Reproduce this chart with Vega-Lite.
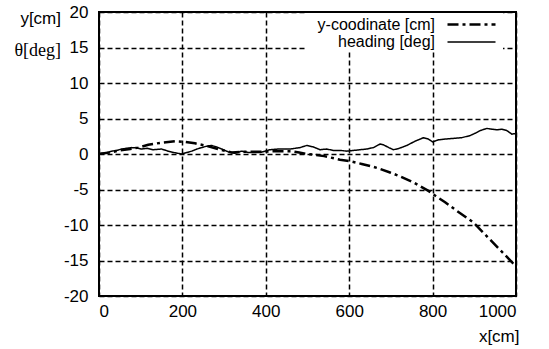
{
  "$schema": "https://vega.github.io/schema/vega-lite/v6.json",
  "width": 417,
  "height": 284,
  "autosize": {"type": "none"},
  "padding": {"left": 99, "top": 12, "right": 33, "bottom": 53},
  "background": "white",
  "title": {
    "text": "y[cm]",
    "subtitle": "θ[deg]",
    "anchor": "start",
    "frame": "group",
    "align": "right",
    "dx": -38,
    "dy": 62,
    "font": "Liberation Sans",
    "fontSize": 17,
    "fontWeight": "normal",
    "color": "black",
    "subtitleFont": "Liberation Serif",
    "subtitleFontSize": 18,
    "subtitleColor": "black",
    "subtitlePadding": 14
  },
  "config": {
    "view": {"stroke": "black", "strokeWidth": 2},
    "font": "Liberation Sans",
    "axis": {
      "labelFont": "Liberation Sans",
      "labelFontSize": 17,
      "labelColor": "black",
      "labelExpr": "datum.value + ''",
      "domain": false,
      "ticks": false,
      "grid": true,
      "gridColor": "black",
      "gridDash": [5, 3],
      "gridWidth": 1.5,
      "gridOpacity": 1
    },
    "legend": {
      "orient": "none",
      "legendX": 206,
      "legendY": 1,
      "padding": 2,
      "fillColor": "white",
      "symbolType": "M-3,0H3",
      "symbolSize": 256,
      "symbolStrokeWidth": 2,
      "symbolStrokeColor": "black",
      "symbolOffset": 155,
      "labelFont": "Liberation Sans",
      "labelFontSize": 16,
      "labelColor": "black",
      "labelAlign": "right",
      "labelOffset": -46,
      "rowPadding": -3,
      "title": null
    }
  },
  "data": {
    "values": [
      {"x": 0, "v": 0.0, "s": "y-coodinate [cm]"},
      {"x": 25, "v": 0.2, "s": "y-coodinate [cm]"},
      {"x": 50, "v": 0.5, "s": "y-coodinate [cm]"},
      {"x": 75, "v": 0.7, "s": "y-coodinate [cm]"},
      {"x": 94, "v": 0.9, "s": "y-coodinate [cm]"},
      {"x": 118, "v": 1.3, "s": "y-coodinate [cm]"},
      {"x": 150, "v": 1.6, "s": "y-coodinate [cm]"},
      {"x": 182, "v": 1.8, "s": "y-coodinate [cm]"},
      {"x": 206, "v": 1.7, "s": "y-coodinate [cm]"},
      {"x": 230, "v": 1.5, "s": "y-coodinate [cm]"},
      {"x": 254, "v": 1.2, "s": "y-coodinate [cm]"},
      {"x": 285, "v": 0.7, "s": "y-coodinate [cm]"},
      {"x": 318, "v": 0.2, "s": "y-coodinate [cm]"},
      {"x": 340, "v": 0.3, "s": "y-coodinate [cm]"},
      {"x": 380, "v": 0.3, "s": "y-coodinate [cm]"},
      {"x": 420, "v": 0.4, "s": "y-coodinate [cm]"},
      {"x": 460, "v": 0.4, "s": "y-coodinate [cm]"},
      {"x": 480, "v": 0.2, "s": "y-coodinate [cm]"},
      {"x": 500, "v": 0.0, "s": "y-coodinate [cm]"},
      {"x": 540, "v": -0.3, "s": "y-coodinate [cm]"},
      {"x": 578, "v": -0.8, "s": "y-coodinate [cm]"},
      {"x": 602, "v": -1.0, "s": "y-coodinate [cm]"},
      {"x": 630, "v": -1.4, "s": "y-coodinate [cm]"},
      {"x": 658, "v": -1.8, "s": "y-coodinate [cm]"},
      {"x": 674, "v": -2.1, "s": "y-coodinate [cm]"},
      {"x": 698, "v": -2.6, "s": "y-coodinate [cm]"},
      {"x": 720, "v": -3.1, "s": "y-coodinate [cm]"},
      {"x": 754, "v": -4.0, "s": "y-coodinate [cm]"},
      {"x": 790, "v": -5.2, "s": "y-coodinate [cm]"},
      {"x": 802, "v": -5.7, "s": "y-coodinate [cm]"},
      {"x": 830, "v": -6.8, "s": "y-coodinate [cm]"},
      {"x": 858, "v": -8.0, "s": "y-coodinate [cm]"},
      {"x": 897, "v": -9.6, "s": "y-coodinate [cm]"},
      {"x": 937, "v": -12.0, "s": "y-coodinate [cm]"},
      {"x": 970, "v": -14.0, "s": "y-coodinate [cm]"},
      {"x": 993, "v": -15.4, "s": "y-coodinate [cm]"},
      {"x": 1000, "v": -15.8, "s": "y-coodinate [cm]"},
      {"x": 0, "v": 0.0, "s": "heading [deg]"},
      {"x": 6, "v": 0.1, "s": "heading [deg]"},
      {"x": 15, "v": 0.1, "s": "heading [deg]"},
      {"x": 30, "v": 0.4, "s": "heading [deg]"},
      {"x": 42, "v": 0.5, "s": "heading [deg]"},
      {"x": 54, "v": 0.7, "s": "heading [deg]"},
      {"x": 66, "v": 0.8, "s": "heading [deg]"},
      {"x": 78, "v": 0.9, "s": "heading [deg]"},
      {"x": 90, "v": 0.85, "s": "heading [deg]"},
      {"x": 102, "v": 0.7, "s": "heading [deg]"},
      {"x": 115, "v": 0.8, "s": "heading [deg]"},
      {"x": 130, "v": 0.6, "s": "heading [deg]"},
      {"x": 150, "v": 0.7, "s": "heading [deg]"},
      {"x": 166, "v": 0.4, "s": "heading [deg]"},
      {"x": 180, "v": 0.2, "s": "heading [deg]"},
      {"x": 198, "v": 0.0, "s": "heading [deg]"},
      {"x": 210, "v": 0.2, "s": "heading [deg]"},
      {"x": 222, "v": 0.4, "s": "heading [deg]"},
      {"x": 235, "v": 0.7, "s": "heading [deg]"},
      {"x": 246, "v": 0.9, "s": "heading [deg]"},
      {"x": 258, "v": 1.1, "s": "heading [deg]"},
      {"x": 270, "v": 1.2, "s": "heading [deg]"},
      {"x": 282, "v": 1.0, "s": "heading [deg]"},
      {"x": 294, "v": 0.7, "s": "heading [deg]"},
      {"x": 310, "v": 0.3, "s": "heading [deg]"},
      {"x": 326, "v": 0.1, "s": "heading [deg]"},
      {"x": 342, "v": 0.4, "s": "heading [deg]"},
      {"x": 360, "v": 0.2, "s": "heading [deg]"},
      {"x": 386, "v": 0.2, "s": "heading [deg]"},
      {"x": 410, "v": 0.6, "s": "heading [deg]"},
      {"x": 430, "v": 0.7, "s": "heading [deg]"},
      {"x": 458, "v": 0.7, "s": "heading [deg]"},
      {"x": 482, "v": 0.9, "s": "heading [deg]"},
      {"x": 498, "v": 1.2, "s": "heading [deg]"},
      {"x": 514, "v": 1.0, "s": "heading [deg]"},
      {"x": 530, "v": 0.6, "s": "heading [deg]"},
      {"x": 546, "v": 0.7, "s": "heading [deg]"},
      {"x": 562, "v": 0.5, "s": "heading [deg]"},
      {"x": 580, "v": 0.5, "s": "heading [deg]"},
      {"x": 594, "v": 0.4, "s": "heading [deg]"},
      {"x": 610, "v": 0.5, "s": "heading [deg]"},
      {"x": 626, "v": 0.6, "s": "heading [deg]"},
      {"x": 642, "v": 0.7, "s": "heading [deg]"},
      {"x": 658, "v": 0.9, "s": "heading [deg]"},
      {"x": 674, "v": 1.4, "s": "heading [deg]"},
      {"x": 682, "v": 1.3, "s": "heading [deg]"},
      {"x": 695, "v": 0.9, "s": "heading [deg]"},
      {"x": 706, "v": 0.6, "s": "heading [deg]"},
      {"x": 720, "v": 0.8, "s": "heading [deg]"},
      {"x": 738, "v": 1.2, "s": "heading [deg]"},
      {"x": 758, "v": 1.8, "s": "heading [deg]"},
      {"x": 778, "v": 2.3, "s": "heading [deg]"},
      {"x": 790, "v": 2.1, "s": "heading [deg]"},
      {"x": 800, "v": 1.7, "s": "heading [deg]"},
      {"x": 814, "v": 2.0, "s": "heading [deg]"},
      {"x": 830, "v": 2.1, "s": "heading [deg]"},
      {"x": 850, "v": 2.2, "s": "heading [deg]"},
      {"x": 870, "v": 2.3, "s": "heading [deg]"},
      {"x": 890, "v": 2.6, "s": "heading [deg]"},
      {"x": 905, "v": 3.0, "s": "heading [deg]"},
      {"x": 914, "v": 3.3, "s": "heading [deg]"},
      {"x": 930, "v": 3.6, "s": "heading [deg]"},
      {"x": 942, "v": 3.5, "s": "heading [deg]"},
      {"x": 954, "v": 3.4, "s": "heading [deg]"},
      {"x": 966, "v": 3.5, "s": "heading [deg]"},
      {"x": 978, "v": 3.3, "s": "heading [deg]"},
      {"x": 990, "v": 2.8, "s": "heading [deg]"},
      {"x": 1000, "v": 2.9, "s": "heading [deg]"}
    ]
  },
  "mark": {"type": "line", "color": "black"},
  "encoding": {
    "x": {
      "field": "x",
      "type": "quantitative",
      "scale": {"domain": [0, 1000], "nice": false},
      "axis": {
        "values": [0, 200, 400, 600, 800, 1000],
        "labelPadding": 7,
        "title": "x[cm]",
        "titleFont": "Liberation Sans",
        "titleFontSize": 17,
        "titleFontWeight": "normal",
        "titleColor": "black",
        "titleAlign": "right",
        "titleAnchor": null,
        "titleX": 420,
        "titleY": 45,
        "titleBaseline": "alphabetic"
      }
    },
    "y": {
      "field": "v",
      "type": "quantitative",
      "scale": {"domain": [-20, 20], "nice": false},
      "axis": {
        "values": [-20, -15, -10, -5, 0, 5, 10, 15, 20],
        "labelPadding": 11,
        "title": null
      }
    },
    "strokeDash": {
      "field": "s",
      "type": "nominal",
      "sort": ["y-coodinate [cm]", "heading [deg]"],
      "scale": {"domain": ["y-coodinate [cm]", "heading [deg]"], "range": [[11, 4, 3, 4], [1, 0]]},
      "legend": {}
    },
    "strokeWidth": {
      "field": "s",
      "type": "nominal",
      "scale": {"domain": ["y-coodinate [cm]", "heading [deg]"], "range": [2.5, 1.5]},
      "legend": null
    }
  }
}
